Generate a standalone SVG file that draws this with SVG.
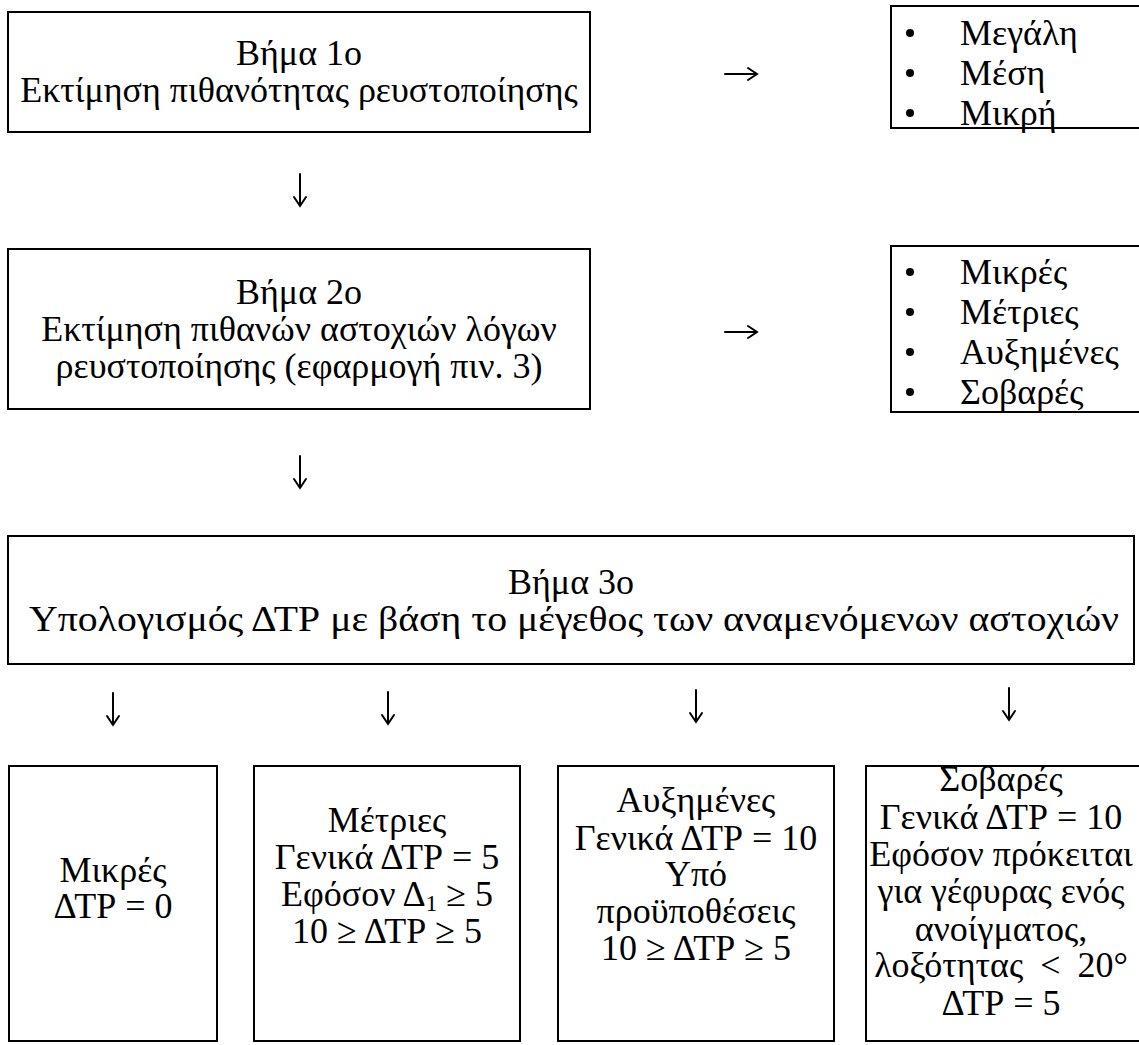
<svg xmlns="http://www.w3.org/2000/svg" width="1139" height="1045" viewBox="0 0 1139 1045">
  <style>
    .box { fill: #ffffff; stroke: #000000; stroke-width: 2; }
    .t { font-family: "Liberation Serif", "Times New Roman", serif; font-size: 36px; fill: #000000; }
    .c { text-anchor: middle; }
    .dot { fill: #000000; }
    .arrow { fill: none; stroke: #000000; stroke-width: 2; stroke-linecap: round; stroke-linejoin: miter; }
  </style>
  <rect width="1139" height="1045" fill="#ffffff"/>

  <!-- step 1 -->
  <g id="step1">
    <rect class="box" x="8" y="12" width="582" height="120"/>
    <text class="t c" x="299" y="65">Βήμα 1ο</text>
    <text class="t c" x="299" y="102">Εκτίμηση πιθανότητας ρευστοποίησης</text>
  </g>

  <!-- probability levels -->
  <g id="probability">
    <rect class="box" x="891" y="6" width="260" height="122"/>
    <circle class="dot" cx="910" cy="33" r="4"/>
    <circle class="dot" cx="910" cy="73" r="4"/>
    <circle class="dot" cx="910" cy="113" r="4"/>
    <text class="t" x="960" y="45">Μεγάλη</text>
    <text class="t" x="960" y="85">Μέση</text>
    <text class="t" x="960" y="125">Μικρή</text>
  </g>

  <!-- step 2 -->
  <g id="step2">
    <rect class="box" x="8" y="249" width="582" height="160"/>
    <text class="t c" x="299" y="304">Βήμα 2ο</text>
    <text class="t c" x="299" y="341">Εκτίμηση πιθανών αστοχιών λόγων</text>
    <text class="t c" x="299" y="378">ρευστοποίησης (εφαρμογή πιν. 3)</text>
  </g>

  <!-- damage levels -->
  <g id="damage">
    <rect class="box" x="891" y="246" width="260" height="166"/>
    <circle class="dot" cx="910" cy="272" r="4"/>
    <circle class="dot" cx="910" cy="312" r="4"/>
    <circle class="dot" cx="910" cy="352" r="4"/>
    <circle class="dot" cx="910" cy="392" r="4"/>
    <text class="t" x="960" y="284">Μικρές</text>
    <text class="t" x="960" y="324">Μέτριες</text>
    <text class="t" x="960" y="364">Αυξημένες</text>
    <text class="t" x="960" y="404">Σοβαρές</text>
  </g>

  <!-- step 3 -->
  <g id="step3">
    <rect class="box" x="8" y="536" width="1126" height="128"/>
    <text class="t c" x="571" y="594">Βήμα 3ο</text>
    <text class="t c" x="574" y="631" textLength="1090" lengthAdjust="spacingAndGlyphs">Υπολογισμός ΔΤΡ με βάση το μέγεθος των αναμενόμενων αστοχιών</text>
  </g>

  <!-- outcomes -->
  <g id="minor">
    <rect class="box" x="9" y="766" width="208" height="275"/>
    <text class="t c" x="113" y="882">Μικρές</text>
    <text class="t c" x="113" y="918">ΔΤΡ = 0</text>
  </g>
  <g id="moderate">
    <rect class="box" x="254" y="766" width="266" height="275"/>
    <text class="t c" x="387" y="832">Μέτριες</text>
    <text class="t c" x="387" y="869">Γενικά ΔΤΡ = 5</text>
    <text class="t c" x="387" y="906">Εφόσον Δ<tspan font-size="23" dy="5">1</tspan><tspan dy="-5"> ≥ 5</tspan></text>
    <text class="t c" x="387" y="943">10 ≥ ΔΤΡ ≥ 5</text>
  </g>
  <g id="increased">
    <rect class="box" x="558" y="766" width="276" height="275"/>
    <text class="t c" x="696" y="812">Αυξημένες</text>
    <text class="t c" x="696" y="850">Γενικά ΔΤΡ = 10</text>
    <text class="t c" x="696" y="886">Υπό</text>
    <text class="t c" x="696" y="923">προϋποθέσεις</text>
    <text class="t c" x="696" y="960">10 ≥ ΔΤΡ ≥ 5</text>
  </g>
  <g id="severe">
    <rect class="box" x="866" y="766" width="290" height="275"/>
    <text class="t c" x="1001" y="791">Σοβαρές</text>
    <text class="t c" x="1001" y="829">Γενικά ΔΤΡ = 10</text>
    <text class="t c" x="1001" y="866">Εφόσον πρόκειται</text>
    <text class="t c" x="1001" y="903">για γέφυρας ενός</text>
    <text class="t c" x="1001" y="941">ανοίγματος,</text>
    <text class="t c" x="1001" y="977" word-spacing="8">λοξότητας &lt; 20°</text>
    <text class="t c" x="1001" y="1015">ΔΤΡ = 5</text>
  </g>

  <!-- connectors: plain arrows between the steps -->
  <g id="connectors">
    <path class="arrow" d="M725 74 H757 M748 68 L757 74 L748 80"/>
    <path class="arrow" d="M725 332 H757 M748 326 L757 332 L748 338"/>
    <path class="arrow" d="M300 174 V206 M294 197 L300 206 L306 197"/>
    <path class="arrow" d="M300 456 V488 M294 479 L300 488 L306 479"/>
    <path class="arrow" d="M113 693 V725 M107 716 L113 725 L119 716"/>
    <path class="arrow" d="M388 692 V724 M382 715 L388 724 L394 715"/>
    <path class="arrow" d="M696 690 V722 M690 713 L696 722 L702 713"/>
    <path class="arrow" d="M1009 688 V720 M1003 711 L1009 720 L1015 711"/>
  </g>
</svg>
